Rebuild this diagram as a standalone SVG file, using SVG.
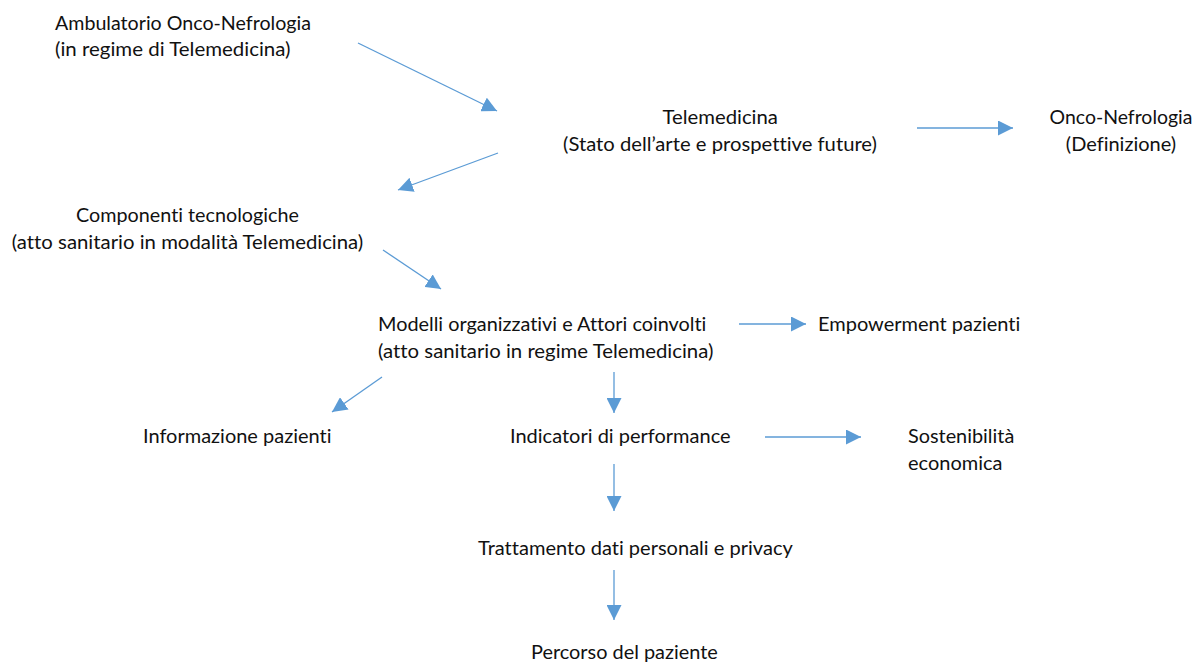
<svg xmlns="http://www.w3.org/2000/svg" width="1201" height="664" viewBox="0 0 1201 664">
  <defs>
    <marker id="head" markerUnits="userSpaceOnUse" markerWidth="15" markerHeight="15" refX="15" refY="7.5" orient="auto">
      <path d="M0,0 L15,7.5 L0,15 Z" fill="#5B9BD5"/>
    </marker>
    <style>
      text { font-family: Lato, "Open Sans", "Liberation Sans", sans-serif; font-size: 19.6px; fill: #111111;
             font-variant-ligatures: none; font-feature-settings: "liga" 0, "dlig" 0, "clig" 0; }
      .arrow { stroke: #5B9BD5; stroke-width: 1.3; fill: none; marker-end: url(#head); }
    </style>
  </defs>
  <rect width="1201" height="664" fill="#ffffff"/>

  <!-- topics -->
  <g id="ambulatorio">
    <text x="55" y="30" textLength="256" lengthAdjust="spacingAndGlyphs">Ambulatorio Onco-Nefrologia</text>
    <text x="55" y="56" textLength="235.5" lengthAdjust="spacingAndGlyphs">(in regime di Telemedicina)</text>
  </g>
  <g id="telemedicina">
    <text x="662.5" y="124" textLength="115.4" lengthAdjust="spacingAndGlyphs">Telemedicina</text>
    <text x="563" y="151" textLength="314" lengthAdjust="spacingAndGlyphs">(Stato dell’arte e prospettive future)</text>
  </g>
  <g id="onco-nefrologia">
    <text x="1049.6" y="124" textLength="142.8" lengthAdjust="spacingAndGlyphs">Onco-Nefrologia</text>
    <text x="1065.8" y="151" textLength="110.4" lengthAdjust="spacingAndGlyphs">(Definizione)</text>
  </g>
  <g id="componenti">
    <text x="76.1" y="222" textLength="222.8" lengthAdjust="spacingAndGlyphs">Componenti tecnologiche</text>
    <text x="11.8" y="249" textLength="351.5" lengthAdjust="spacingAndGlyphs">(atto sanitario in modalità Telemedicina)</text>
  </g>
  <g id="modelli">
    <text x="378" y="331" textLength="328.4" lengthAdjust="spacingAndGlyphs">Modelli organizzativi e Attori coinvolti</text>
    <text x="378" y="358" textLength="335.4" lengthAdjust="spacingAndGlyphs">(atto sanitario in regime Telemedicina)</text>
  </g>
  <g id="empowerment">
    <text x="818" y="331" textLength="202.3" lengthAdjust="spacingAndGlyphs">Empowerment pazienti</text>
  </g>
  <g id="informazione">
    <text x="143" y="443" textLength="188.5" lengthAdjust="spacingAndGlyphs">Informazione pazienti</text>
  </g>
  <g id="indicatori">
    <text x="510" y="443" textLength="220.6" lengthAdjust="spacingAndGlyphs">Indicatori di performance</text>
  </g>
  <g id="sostenibilita">
    <text x="908" y="443" textLength="106.3" lengthAdjust="spacingAndGlyphs">Sostenibilità</text>
    <text x="908" y="470" textLength="94.4" lengthAdjust="spacingAndGlyphs">economica</text>
  </g>
  <g id="trattamento">
    <text x="478" y="555" textLength="314.8" lengthAdjust="spacingAndGlyphs">Trattamento dati personali e privacy</text>
  </g>
  <g id="percorso">
    <text x="531" y="659" textLength="186.8" lengthAdjust="spacingAndGlyphs">Percorso del paziente</text>
  </g>

  <!-- connectors -->
  <g id="connectors">
    <line class="arrow" x1="358" y1="43" x2="497" y2="111"/>
    <line class="arrow" x1="498" y1="153" x2="398" y2="190"/>
    <line class="arrow" x1="917" y1="128" x2="1013" y2="128"/>
    <line class="arrow" x1="383" y1="250" x2="441" y2="289"/>
    <line class="arrow" x1="739" y1="324" x2="806" y2="324"/>
    <line class="arrow" x1="382" y1="377" x2="332" y2="412"/>
    <line class="arrow" x1="614" y1="372" x2="614" y2="413"/>
    <line class="arrow" x1="765" y1="437" x2="861" y2="437"/>
    <line class="arrow" x1="614" y1="464" x2="614" y2="511"/>
    <line class="arrow" x1="614" y1="570" x2="614" y2="620"/>
  </g>
</svg>
